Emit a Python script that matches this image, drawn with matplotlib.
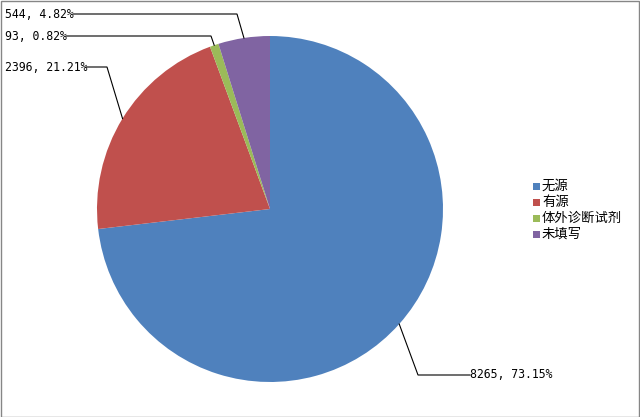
import numpy as np
import matplotlib
matplotlib.use("Agg")
import matplotlib.pyplot as plt
from matplotlib.patches import Rectangle

categories = ["无源", "有源", "体外诊断试剂", "未填写"]
values = [8265, 2396, 93, 544]
percents = ["73.15%", "21.21%", "0.82%", "4.82%"]
colors = ["#4F81BD", "#C0504D", "#9BBB59", "#8064A2"]

W, H = 640, 417
fig = plt.figure(figsize=(W / 100, H / 100), dpi=100)
ax = fig.add_axes([0, 0, 1, 1])
ax.set_xlim(0, W)
ax.set_ylim(0, H)
ax.set_aspect("equal")
ax.axis("off")

cx, cy, r = 270, H - 209, 173
wedges, _ = ax.pie(values, colors=colors, startangle=90, counterclock=False,
                   center=(cx, cy), radius=r, frame=True,
                   wedgeprops=dict(linewidth=0))
ax.set_xlim(0, W)
ax.set_ylim(0, H)
ax.axis("off")

# label layout: (elbow x, elbow y px-from-top, line end x, text x)
layout = [
    (418, 375, 470, 470),
    (107, 67, 86, 5),
    (211, 36, 66, 5),
    (237, 14, 73, 5),
]
mono = ["DejaVu Sans Mono"]
for w, v, p, (ex, ey, lx_end, tx) in zip(wedges, values, percents, layout):
    ang = np.deg2rad((w.theta1 + w.theta2) / 2)
    px, py = cx + r * np.cos(ang), cy + r * np.sin(ang)
    ey2 = H - ey
    ax.plot([px, ex, lx_end], [py, ey2, ey2], color="black", lw=0.8,
            solid_joinstyle="miter")
    ax.text(tx, ey2, f"{v}, {p}", ha="left", va="center", fontsize=8.3,
            family=mono, color="black")

# legend
lx, ly0, dy = 533, H - 186, 16
for i, (c, name) in enumerate(zip(colors, categories)):
    y = ly0 - i * dy
    ax.add_patch(Rectangle((lx, y - 3.5), 7, 7, facecolor=c, edgecolor="none"))
    ax.text(lx + 9, y, name, ha="left", va="center", fontsize=9.6,
            family=["Noto Sans CJK SC", "DejaVu Sans"], color="black")

fig.patches.append(Rectangle((0.5 / W, 0.5 / H), 1 - 1.5 / W, 1 - 1.5 / H,
                             transform=fig.transFigure, fill=False,
                             edgecolor="#868686", lw=1))
fig.savefig("out.png", dpi=100)
